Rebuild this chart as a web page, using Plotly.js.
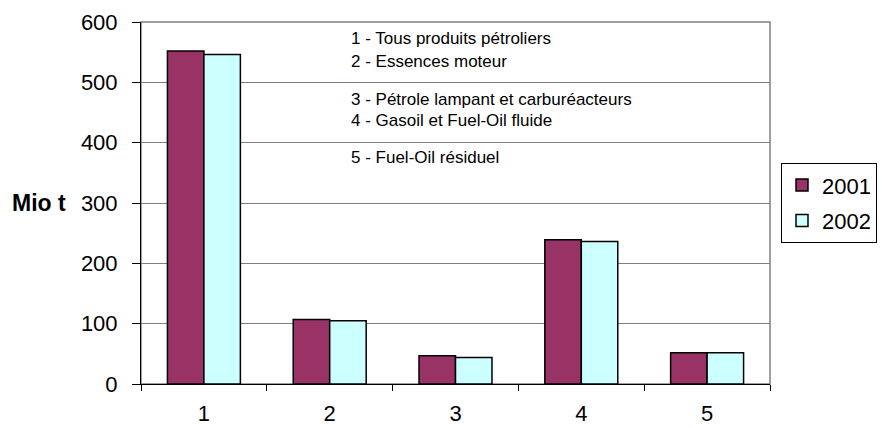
<!DOCTYPE html>
<html>
<head>
<meta charset="utf-8">
<script src="https://cdn.plot.ly/plotly-3.0.1.min.js"></script>
<style>html,body{margin:0;padding:0;background:#fff;}#chart{width:882px;height:428px;}</style>
</head>
<body>
<div id="chart"></div>
<script>
var categories = ["1", "2", "3", "4", "5"];
var values2001 = [552, 107, 47, 239, 52];
var values2002 = [546, 105, 44, 236, 52];
var seriesNames = ["2001", "2002"];
var yTicks = [0, 100, 200, 300, 400, 500, 600];
var yAxisLabel = "Mio t";
var notes = [
  "1 - Tous produits pétroliers",
  "2 - Essences moteur",
  "3 - Pétrole lampant et carburéacteurs",
  "4 - Gasoil et Fuel-Oil fluide",
  "5 - Fuel-Oil résiduel"
];
var noteY = [572, 535, 472, 436, 376];

var font = "Liberation Sans, Arial, sans-serif";

var traces = [
  {type: "bar", name: seriesNames[0], x: categories, y: values2001, legendgroup: "a",
   marker: {color: "#993366", line: {color: "#000000", width: 1.5}}},
  {type: "bar", name: seriesNames[1], x: categories, y: values2002, legendgroup: "b",
   marker: {color: "#CCFFFF", line: {color: "#000000", width: 1.5}}}
];

var annotations = notes.map(function (t, i) {
  return {text: t, x: 0.331, xref: "paper", y: noteY[i], yref: "y",
          xanchor: "left", yanchor: "middle", showarrow: false,
          font: {family: font, size: 17, color: "#000"}};
});
annotations.push({text: "<b>" + yAxisLabel + "</b>", x: -0.116, xref: "paper", y: 300, yref: "y",
  xanchor: "right", yanchor: "middle", showarrow: false,
  font: {family: font, size: 23, color: "#000"}});

var layout = {
  width: 882, height: 428,
  margin: {l: 141, r: 112, t: 22, b: 44, autoexpand: false},
  paper_bgcolor: "#fff", plot_bgcolor: "#fff",
  barmode: "group", bargap: 0.42, bargroupgap: 0,
  font: {family: font, color: "#000"},
  xaxis: {type: "category", tickson: "boundaries", ticks: "outside", ticklen: 6,
          tickcolor: "#000", showline: true, linecolor: "#000", linewidth: 1,
          showgrid: false, tickfont: {size: 22, family: font}, ticklabelstandoff: 10},
  yaxis: {range: [0, 600], tickvals: yTicks, ticks: "outside", ticklen: 8,
          tickcolor: "#000", showline: true, linecolor: "#000", linewidth: 1,
          showgrid: true, gridcolor: "#808080", gridwidth: 1, zeroline: false,
          tickfont: {size: 22, family: font}, ticklabelstandoff: 10},
  legend: {x: 1.0175, xanchor: "left", y: 0.61, yanchor: "top",
           bordercolor: "#000", borderwidth: 1, bgcolor: "#fff",
           traceorder: "grouped", tracegroupgap: 4,
           font: {size: 22, family: font}},
  shapes: [{type: "rect", xref: "paper", yref: "paper", x0: 0, x1: 1, y0: 0, y1: 1,
            line: {color: "#808080", width: 1.5}, layer: "below"}],
  annotations: annotations,
  showlegend: true
};

Plotly.newPlot("chart", traces, layout, {displayModeBar: false, staticPlot: true});
</script>
</body>
</html>
